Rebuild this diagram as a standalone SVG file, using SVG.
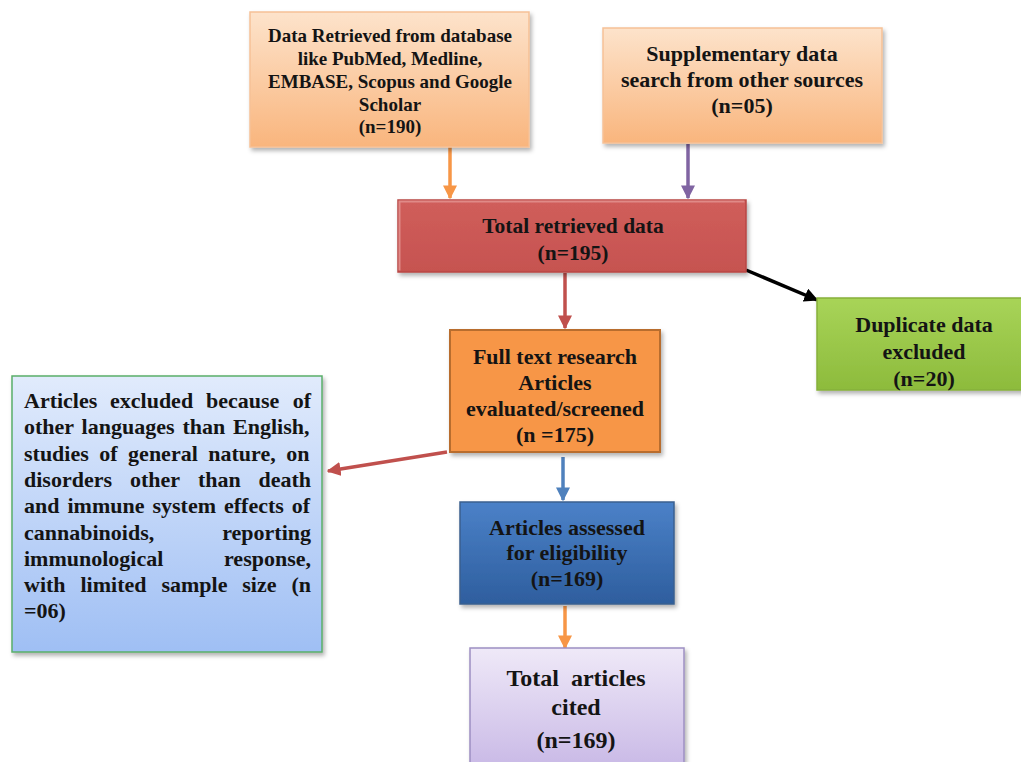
<svg xmlns="http://www.w3.org/2000/svg" width="1021" height="762" viewBox="0 0 1021 762">
<style>
text{font-family:"Liberation Serif","Times New Roman",serif;font-weight:bold;fill:#141414;}
.c{text-anchor:middle;}
.e{text-anchor:end;}
.conn{fill:none;stroke-width:3.5;}
</style>
<defs>
<filter id="sh" x="-10%" y="-10%" width="125%" height="130%">
<feDropShadow dx="2" dy="3" stdDeviation="2" flood-color="#000" flood-opacity="0.3"/>
</filter>
<linearGradient id="gPeach" x1="0" y1="0" x2="0" y2="1"><stop offset="0" stop-color="#fde3cb"/><stop offset="1" stop-color="#f9b57d"/></linearGradient>
<linearGradient id="gRed" x1="0" y1="0" x2="0" y2="1"><stop offset="0" stop-color="#d05e5b"/><stop offset="1" stop-color="#c65350"/></linearGradient>
<linearGradient id="gGreen" x1="0" y1="0" x2="0" y2="1"><stop offset="0" stop-color="#a8d458"/><stop offset="1" stop-color="#8dbb3c"/></linearGradient>
<linearGradient id="gBlue" x1="0" y1="0" x2="0" y2="1"><stop offset="0" stop-color="#4b81c8"/><stop offset="1" stop-color="#2e5e9e"/></linearGradient>
<linearGradient id="gLav" x1="0" y1="0" x2="0" y2="1"><stop offset="0" stop-color="#efe9f8"/><stop offset="1" stop-color="#c9b9e6"/></linearGradient>
<linearGradient id="gLB" x1="0" y1="0" x2="0" y2="1"><stop offset="0" stop-color="#e1ebfc"/><stop offset="1" stop-color="#9fbff4"/></linearGradient>
<marker id="aOr" viewBox="0 0 10 10" refX="9" refY="5" markerWidth="4" markerHeight="4" orient="auto"><path d="M0,0 L10,5 L0,10 z" fill="#f79646"/></marker>
<marker id="aPu" viewBox="0 0 10 10" refX="9" refY="5" markerWidth="4" markerHeight="4" orient="auto"><path d="M0,0 L10,5 L0,10 z" fill="#8064a2"/></marker>
<marker id="aRd" viewBox="0 0 10 10" refX="9" refY="5" markerWidth="4" markerHeight="4" orient="auto"><path d="M0,0 L10,5 L0,10 z" fill="#c0504d"/></marker>
<marker id="aBk" viewBox="0 0 10 10" refX="9" refY="5" markerWidth="4" markerHeight="4" orient="auto"><path d="M0,0 L10,5 L0,10 z" fill="#000"/></marker>
<marker id="aBl" viewBox="0 0 10 10" refX="9" refY="5" markerWidth="4" markerHeight="4" orient="auto"><path d="M0,0 L10,5 L0,10 z" fill="#4f81bd"/></marker>
</defs>
<rect width="1021" height="762" fill="#fff"/>

<g id="connectors">
<line class="conn" x1="450" y1="147" x2="450" y2="198" stroke="#f79646" marker-end="url(#aOr)"/>
<line class="conn" x1="688" y1="144" x2="688" y2="198" stroke="#8064a2" marker-end="url(#aPu)"/>
<line class="conn" x1="565" y1="273" x2="565" y2="328" stroke="#c0504d" marker-end="url(#aRd)"/>
<line class="conn" x1="746" y1="270" x2="817" y2="300" stroke="#000" marker-end="url(#aBk)"/>
<line class="conn" x1="447" y1="452" x2="328" y2="471" stroke="#c0504d" marker-end="url(#aRd)"/>
<line class="conn" x1="563" y1="457" x2="563" y2="500" stroke="#4f81bd" marker-end="url(#aBl)"/>
<line class="conn" x1="565" y1="606" x2="565" y2="648" stroke="#f79646" marker-end="url(#aOr)"/>
</g>

<g id="n1">
<rect x="250" y="12" width="279" height="135" fill="url(#gPeach)" stroke="#f6c196" stroke-width="1.5" filter="url(#sh)"/>
<g font-size="19">
<text class="c" x="390" y="42">Data Retrieved from database</text>
<text class="c" x="390" y="65">like PubMed, Medline,</text>
<text class="c" x="390" y="88">EMBASE, Scopus and Google</text>
<text class="c" x="390" y="111">Scholar</text>
<text class="c" x="390" y="133">(n=190)</text>
</g>
</g>

<g id="n2">
<rect x="603" y="28" width="279" height="115" fill="url(#gPeach)" stroke="#f6c196" stroke-width="1.5" filter="url(#sh)"/>
<g font-size="22">
<text class="c" x="742" y="61">Supplementary data</text>
<text class="c" x="742" y="87">search from other sources</text>
<text class="c" x="742" y="113">(n=05)</text>
</g>
</g>

<g id="n3">
<rect x="398" y="200" width="348" height="72" fill="url(#gRed)" stroke="#b84744" stroke-width="1.5" filter="url(#sh)"/>
<path d="M399.5,270.5 V201.5 H744.5" fill="none" stroke="#e08a87" stroke-width="2"/>
<g font-size="21.5">
<text class="c" x="573" y="233">Total retrieved data</text>
<text class="c" x="573" y="260">(n=195)</text>
</g>
</g>

<g id="n4">
<rect x="817" y="298" width="210" height="92" fill="url(#gGreen)" stroke="#86b03a" stroke-width="1.5" filter="url(#sh)"/>
<g font-size="22">
<text class="c" x="924" y="332">Duplicate data</text>
<text class="c" x="924" y="359">excluded</text>
<text class="c" x="924" y="386">(n=20)</text>
</g>
</g>

<g id="n5">
<rect x="450" y="330" width="210" height="122" fill="#f79646" stroke="#b86d2e" stroke-width="2" filter="url(#sh)"/>
<g font-size="22">
<text class="c" x="555" y="364">Full text research</text>
<text class="c" x="555" y="390">Articles</text>
<text class="c" x="555" y="416">evaluated/screened</text>
<text class="c" x="555" y="442">(n =175)</text>
</g>
</g>

<g id="n6">
<rect x="460" y="502" width="214" height="102" fill="url(#gBlue)" stroke="#3a5f8f" stroke-width="1.5" filter="url(#sh)"/>
<g font-size="22">
<text class="c" x="567" y="535">Articles assessed</text>
<text class="c" x="567" y="560">for eligibility</text>
<text class="c" x="567" y="586">(n=169)</text>
</g>
</g>

<g id="n7">
<rect x="470" y="648" width="214" height="120" fill="url(#gLav)" stroke="#9d8fc2" stroke-width="1.5" filter="url(#sh)"/>
<g font-size="24">
<text class="c" x="576" y="686" xml:space="preserve">Total  articles</text>
<text class="c" x="576" y="715">cited</text>
<text class="c" x="576" y="748">(n=169)</text>
</g>
</g>

<g id="n8">
<rect x="12" y="376" width="310" height="276" fill="url(#gLB)" stroke="#5aae6a" stroke-width="1.5" filter="url(#sh)"/>
<g font-size="22">
<text x="24" y="408">Articles</text><text x="110" y="408">excluded</text><text x="206" y="408">because</text><text class="e" x="311" y="408">of</text>
<text x="24" y="434" word-spacing="2.4">other languages than English,</text>
<text x="24" y="460.5" word-spacing="5">studies of general nature, on</text>
<text x="24" y="487">disorders</text><text x="130" y="487">other</text><text x="198" y="487">than</text><text class="e" x="311" y="487">death</text>
<text x="24" y="513" word-spacing="2.5">and immune system effects of</text>
<text x="24" y="539.5">cannabinoids,</text><text class="e" x="311" y="539.5">reporting</text>
<text x="24" y="566">immunological</text><text class="e" x="311" y="566">response,</text>
<text x="24" y="592">with</text><text x="80.5" y="592">limited</text><text x="161.4" y="592">sample</text><text x="242.3" y="592">size</text><text class="e" x="311" y="592">(n</text>
<text x="24" y="618">=06)</text>
</g>
</g>
</svg>
